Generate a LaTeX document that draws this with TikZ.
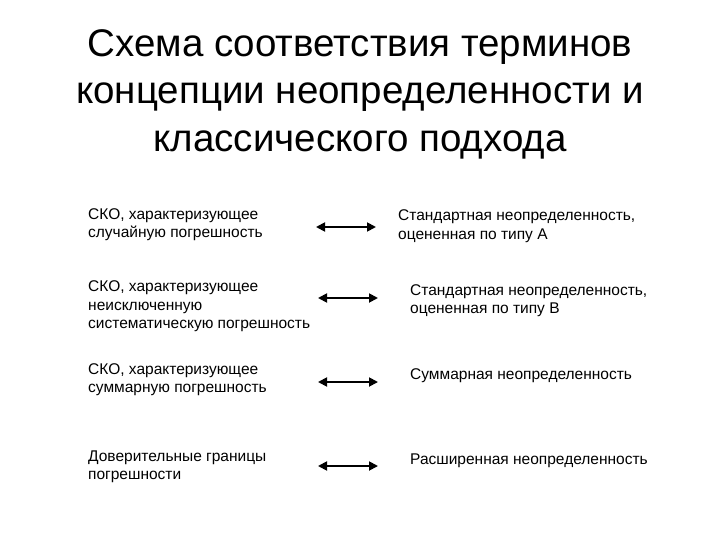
\documentclass[tikz,border=0pt]{standalone}
\usepackage{fontspec}
\setmainfont{Liberation Sans}
\usetikzlibrary{arrows.meta}
\tikzset{
  body/.style={anchor=west, align=left, inner sep=0pt, font=\fontsize{15.5}{18.5}\selectfont},
  link/.style={line width=1.8pt, {Triangle[length=9pt,width=9pt]}-{Triangle[length=9pt,width=9pt]}},
  ttl/.style={align=center, inner sep=0pt, font=\fontsize{38.5}{47.5}\selectfont}
}
\begin{document}
\begin{tikzpicture}[x=1pt,y=-1pt]
\useasboundingbox[fill=white] (0,0) rectangle (720,540);
\node[ttl] (title) at (360,94) {Схема соответствия терминов\\концепции неопределенности и\\классического подхода};

\node[body] (l1) at (88,224.5) {СКО, характеризующее\\случайную погрешность};
\node[body] (r1) at (398,226) {Стандартная неопределенность,\\оцененная по типу А};
\coordinate (a1s) at (316,227); \coordinate (a1e) at (376,227);
\draw[link] (a1s) -- (a1e);

\node[body] (l2) at (88,306.5) {СКО, характеризующее\\неисключенную\\систематическую погрешность};
\node[body] (r2) at (410,300.5) {Стандартная неопределенность,\\оцененная по типу В};
\coordinate (a2s) at (318,298); \coordinate (a2e) at (378,298);
\draw[link] (a2s) -- (a2e);

\node[body] (l3) at (88,379.5) {СКО, характеризующее\\суммарную погрешность};
\node[body] (r3) at (410,376) {Суммарная неопределенность};
\coordinate (a3s) at (318,382); \coordinate (a3e) at (378,382);
\draw[link] (a3s) -- (a3e);

\node[body] (l4) at (88,467) {Доверительные границы\\погрешности};
\node[body] (r4) at (410,461) {Расширенная неопределенность};
\coordinate (a4s) at (318,466); \coordinate (a4e) at (378,466);
\draw[link] (a4s) -- (a4e);
\end{tikzpicture}
\end{document}
